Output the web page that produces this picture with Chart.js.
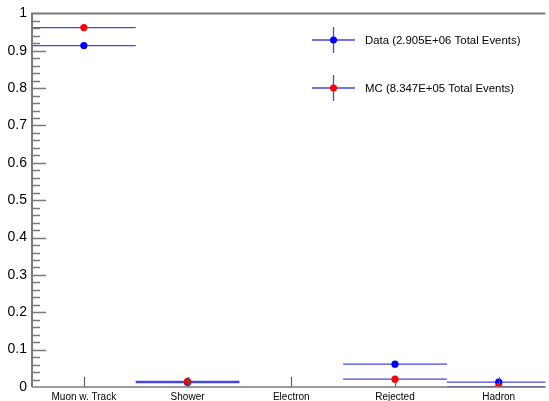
<!DOCTYPE html>
<html>
<head>
<meta charset="utf-8">
<script src="https://cdn.jsdelivr.net/npm/chart.js@4.4.1/dist/chart.umd.min.js"></script>
<style>
  html, body { margin: 0; padding: 0; background: #fff; }
  #plot { display: block; }
</style>
</head>
<body>
<canvas id="plot" width="549" height="401"></canvas>
<script>
// categories (one bin each) and the fraction in each bin
const categories = ['Muon w. Track', 'Shower', 'Electron', 'Rejected', 'Hadron'];
const dataFractions = [0.914, 0.012, null, 0.061, 0.013];
const mcFractions = [0.962, 0.015, null, 0.021, 0.001];
const legendLabels = ['Data (2.905E+06 Total Events)', 'MC (8.347E+05 Total Events)'];
const yTickValues = [0, 0.1, 0.2, 0.3, 0.4, 0.5, 0.6, 0.7, 0.8, 0.9, 1];

const FONT = '"Liberation Sans", Arial, Helvetica, sans-serif';
const ERR_COLOR = 'rgb(70,70,225)';
const AXIS_COLOR = '#7a7a7a';

function toPoints(values) {
  const pts = [];
  values.forEach((v, i) => {
    if (v !== null) pts.push({ x: i + 0.5, y: v });
  });
  return pts;
}

// horizontal error bars spanning the bin width (drawn before the markers)
const binBars = {
  id: 'binBars',
  beforeDatasetsDraw(chart) {
    const { ctx, chartArea, scales: { x, y } } = chart;
    ctx.save();
    ctx.beginPath();
    ctx.rect(chartArea.left, chartArea.top - 2, chartArea.right - chartArea.left, chartArea.bottom - chartArea.top + 4);
    ctx.clip();
    ctx.strokeStyle = ERR_COLOR;
    ctx.lineWidth = 1.3;
    [dataFractions, mcFractions].forEach(series => {
      series.forEach((v, i) => {
        if (v === null) return;
        const py = y.getPixelForValue(v);
        ctx.beginPath();
        ctx.moveTo(x.getPixelForValue(i), py);
        ctx.lineTo(x.getPixelForValue(i + 1), py);
        ctx.stroke();
      });
    });
    ctx.restore();
  }
};

// ROOT style frame, inward ticks and legend
const rootFrame = {
  id: 'rootFrame',
  afterDraw(chart) {
    const { ctx, chartArea, scales: { x, y } } = chart;
    ctx.save();
    ctx.strokeStyle = AXIS_COLOR;

    // y axis + top line
    ctx.lineWidth = 2;
    ctx.beginPath();
    ctx.moveTo(chartArea.left, chartArea.top);
    ctx.lineTo(chartArea.left, chartArea.bottom);
    ctx.stroke();
    ctx.beginPath();
    ctx.moveTo(chartArea.left - 1, chartArea.top);
    ctx.lineTo(chartArea.right, chartArea.top);
    ctx.stroke();

    ctx.lineWidth = 1.5;
    ctx.beginPath();
    ctx.moveTo(chartArea.left, chartArea.bottom);
    ctx.lineTo(chartArea.right, chartArea.bottom);
    ctx.stroke();

    // minor / major ticks on y, pointing inward
    ctx.lineWidth = 1.5;
    for (let k = 1; k < 50; k++) {
      const py = Math.round(y.getPixelForValue(k / 50)) + 0.5;
      const len = k % 5 === 0 ? 14 : 8;
      ctx.beginPath();
      ctx.moveTo(chartArea.left, py);
      ctx.lineTo(chartArea.left + len, py);
      ctx.stroke();
    }

    // x ticks at bin centres
    ctx.strokeStyle = '#555';
    ctx.lineWidth = 1;
    categories.forEach((c, i) => {
      const px = Math.round(x.getPixelForValue(i + 0.5)) + 0.5;
      ctx.beginPath();
      ctx.moveTo(px, chartArea.bottom);
      ctx.lineTo(px, chartArea.bottom - 10);
      ctx.stroke();
    });

    // legend
    const colors = ['#0000ff', '#ff0000'];
    const rows = [40, 88];
    rows.forEach((ly, i) => {
      ctx.strokeStyle = ERR_COLOR;
      ctx.lineWidth = 1.3;
      ctx.beginPath();
      ctx.moveTo(312, ly);
      ctx.lineTo(355, ly);
      ctx.moveTo(333.5, ly - 13);
      ctx.lineTo(333.5, ly + 13);
      ctx.stroke();
      ctx.fillStyle = colors[i];
      ctx.beginPath();
      ctx.arc(333.5, ly, 3.5, 0, Math.PI * 2);
      ctx.fill();
      ctx.fillStyle = '#000';
      ctx.font = '11.4px ' + FONT;
      ctx.textAlign = 'left';
      ctx.textBaseline = 'middle';
      ctx.fillText(legendLabels[i], 365, ly + 1);
    });
    ctx.restore();
  }
};

new Chart(document.getElementById('plot'), {
  type: 'scatter',
  data: {
    datasets: [
      {
        label: 'Data',
        data: toPoints(dataFractions),
        backgroundColor: '#0000ff',
        borderColor: '#0000ff',
        pointRadius: 3.6,
        pointBorderWidth: 0,
        pointHoverRadius: 3.6,
        order: 1
      },
      {
        label: 'MC',
        data: toPoints(mcFractions),
        backgroundColor: '#ff0000',
        borderColor: '#ff0000',
        pointRadius: 3.6,
        pointBorderWidth: 0,
        pointHoverRadius: 3.6,
        order: 0
      }
    ]
  },
  options: {
    responsive: false,
    animation: false,
    events: [],
    layout: { padding: { top: 11, right: 0, left: 0, bottom: 0 } },
    plugins: {
      legend: { display: false },
      tooltip: { enabled: false }
    },
    scales: {
      x: {
        type: 'linear',
        min: 0,
        max: 4.95,
        grid: { display: false, drawTicks: false },
        border: { display: false },
        afterBuildTicks: axis => {
          axis.ticks = categories.map((c, i) => ({ value: i + 0.5 }));
        },
        afterFit: axis => { axis.height = 14; },
        ticks: {
          autoSkip: false,
          maxRotation: 0,
          padding: 4,
          color: '#000',
          font: { family: FONT, size: 10 },
          callback: value => categories[Math.floor(value)]
        }
      },
      y: {
        min: 0,
        max: 1,
        grid: { display: false, drawTicks: false },
        border: { display: false },
        afterBuildTicks: axis => {
          axis.ticks = yTickValues.map(v => ({ value: v }));
        },
        afterFit: axis => { axis.width = 32; },
        ticks: {
          padding: 5,
          color: '#000',
          font: { family: FONT, size: 14 },
          callback: value => String(Math.round(value * 10) / 10)
        }
      }
    }
  },
  plugins: [binBars, rootFrame]
});
</script>
</body>
</html>
